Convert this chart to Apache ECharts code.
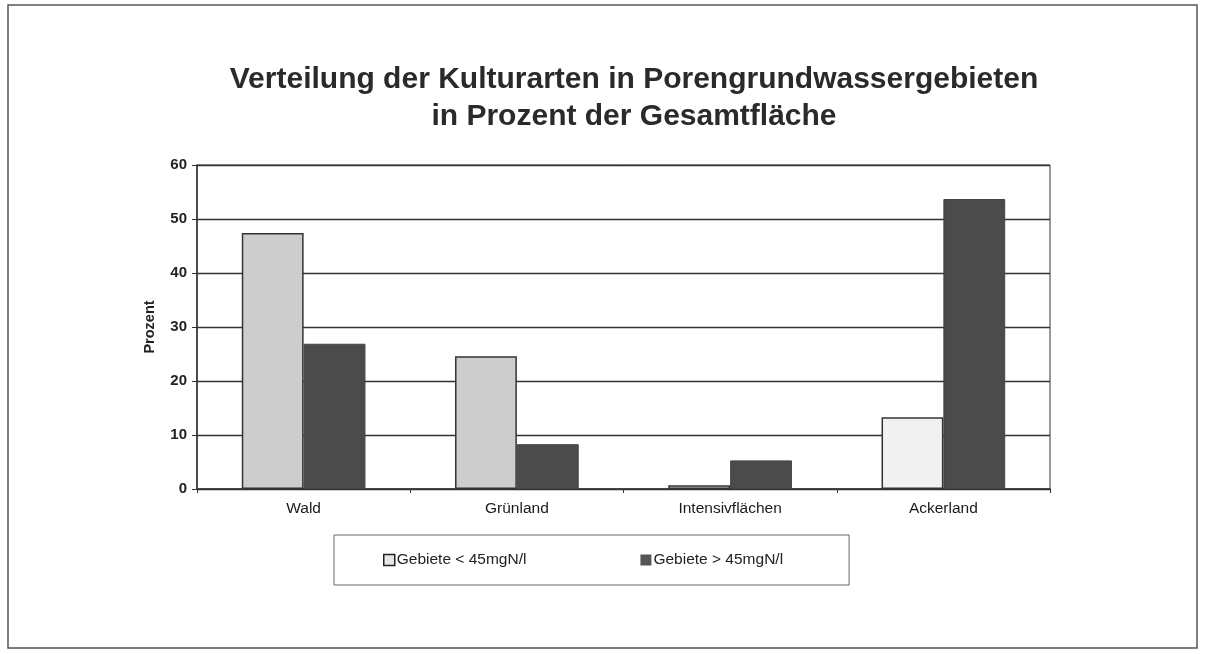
<!DOCTYPE html>
<html><head><meta charset="utf-8">
<script src="https://cdn.jsdelivr.net/npm/echarts@6/dist/echarts.min.js"></script>
<style>html,body{margin:0;padding:0;background:#fff}#c{width:1205px;height:654px}</style>
</head><body><div id="c"></div>
<script>
const categories = ['Wald', 'Grünland', 'Intensivflächen', 'Ackerland'];
const seriesNames = ['Gebiete < 45mgN/l', 'Gebiete > 45mgN/l'];
const lowValues = [47.4, 24.6, 0.7, 13.3];
const highValues = [26.9, 8.3, 5.3, 53.7];
const yTicks = { min: 0, max: 60, interval: 10 };

const chart = echarts.init(document.getElementById('c'), null, {renderer: 'canvas'});
const font = 'Liberation Sans, Arial, sans-serif';
const lowColor = '#cdcdcd', highColor = '#4b4b4b';
chart.setOption({
  backgroundColor: '#fff',
  animation: false,
  graphic: [{ type: 'rect', shape: { x: 8, y: 5, width: 1189, height: 643 }, style: { fill: 'none', stroke: '#555', lineWidth: 1.5 } }],
  title: {
    text: 'Verteilung der Kulturarten in Porengrundwassergebieten\nin Prozent der Gesamtfläche',
    left: 629, top: 56, textAlign: 'center',
    textStyle: { fontFamily: font, fontWeight: 'bold', fontSize: 30, color: '#2a2a2a', lineHeight: 37 }
  },
  legend: {
    data: [
      { name: seriesNames[0], itemStyle: { color: '#e6e6e6', borderColor: '#222', borderWidth: 1.5 } },
      { name: seriesNames[1], itemStyle: { color: '#555', borderWidth: 0 } }
    ],
    left: 334, top: 535,
    padding: [17, 66, 17, 49],
    itemGap: 114,
    itemWidth: 11, itemHeight: 11,
    borderColor: '#666', borderWidth: 1,
    textStyle: { fontFamily: font, fontSize: 15.5, color: '#222', padding: [0, 0, 0, -3] },
    icon: 'rect'
  },
  grid: { left: 197, right: 155, top: 165, bottom: 165, containLabel: false, show: true, borderColor: '#333', borderWidth: 1 },
  xAxis: {
    type: 'category', data: categories,
    axisLine: { lineStyle: { color: '#333', width: 1.5 } },
    axisTick: { show: true, alignWithLabel: false, length: 4, lineStyle: { color: '#333' } },
    axisLabel: { fontFamily: font, fontSize: 15.5, color: '#1a1a1a', margin: 12 }
  },
  yAxis: {
    type: 'value', min: yTicks.min, max: yTicks.max, interval: yTicks.interval,
    name: 'Prozent', nameLocation: 'middle', nameGap: 40, nameRotate: 90,
    nameTextStyle: { fontFamily: font, fontSize: 14.5, fontWeight: 'bold', color: '#222' },
    axisLine: { show: true, lineStyle: { color: '#333', width: 1.5 } },
    axisTick: { show: true, length: 5, lineStyle: { color: '#333' } },
    axisLabel: { fontFamily: font, fontSize: 15, fontWeight: 'bold', color: '#222', margin: 10 },
    splitLine: { lineStyle: { color: '#333', width: 1.3 } }
  },
  series: [
    { name: seriesNames[0], type: 'bar', data: lowValues, barCategoryGap: '42%', barGap: '0%',
      itemStyle: { color: (p) => (p.dataIndex === 3 ? '#f1f1f1' : lowColor), borderColor: '#333', borderWidth: 1.5 } },
    { name: seriesNames[1], type: 'bar', data: highValues,
      itemStyle: { color: highColor, borderColor: '#444', borderWidth: 1 } }
  ]
});
</script></body></html>
